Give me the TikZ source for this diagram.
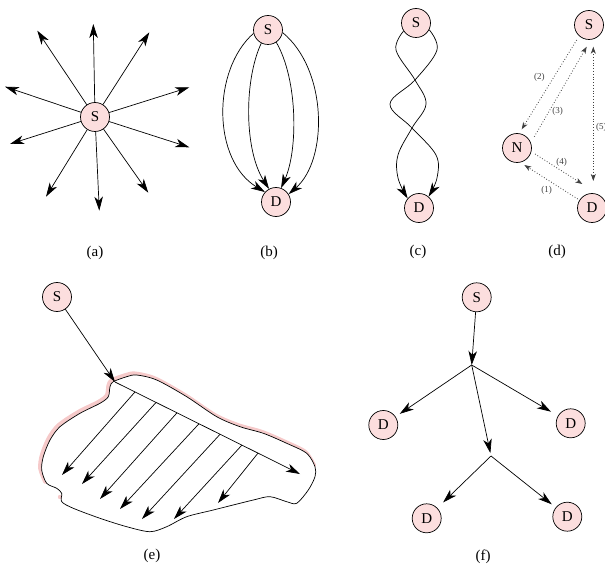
\documentclass[tikz,border=0pt]{standalone}
\usepackage{fontspec}
\setmainfont{Liberation Serif}
\usetikzlibrary{arrows.meta,calc}
\definecolor{nodepink}{RGB}{252,222,222}
\definecolor{edgepink}{RGB}{246,202,202}
\begin{document}
\begin{tikzpicture}[x=1pt,y=-1pt,
  vtx/.style={circle,draw,fill=nodepink,minimum size=29pt,inner sep=0pt,line width=0.7pt,font=\fontsize{15}{15}\selectfont},
  arr/.style={-{Stealth[length=14pt,width=8.5pt,inset=4pt]},line width=0.7pt},
  darr/.style={dotted,line width=0.8pt,draw=black!75,-{Stealth[length=7pt,width=5pt,inset=2pt]}},
  capt/.style={font=\fontsize{15}{15}\selectfont},
  lbl/.style={font=\fontsize{9}{9}\selectfont,text=black!75,inner sep=0pt},
]
\useasboundingbox (0,0) rectangle (605,572);
\clip (0,0) rectangle (605,572);

% ---------- (a)
\node[vtx] (aS) at (95,117) {S};
\foreach \n/\x/\y in {1/93.3/24, 2/37.3/30.7, 3/149.3/32.3, 4/5/86.7, 5/189.3/87.3,
                      6/10/144, 7/189.3/147.3, 8/46/196.7, 9/99.3/210.7, 10/148.3/192.7}{
  \coordinate (a\n) at (\x,\y);
  \draw[arr] (aS) -- (a\n);
}
\node[capt] (acap) at (95,253) {(a)};

% ---------- (b)
\node[vtx] (bS) at (268,30) {S};
\node[vtx] (bD) at (276,202) {D};
\draw[arr] (bS.193) .. controls (212,70) and (212,160) .. (bD.138);
\draw[arr] (bS.243) .. controls (244,80) and (244,150) .. (bD.118);
\draw[arr] (bS.304) .. controls (298,80) and (298,150) .. (bD.70);
\draw[arr] (bS.350) .. controls (328,70) and (328,160) .. (bD.32);
\node[capt] (bcap) at (269,253) {(b)};

% ---------- (c)
\node[vtx] (cS) at (416,23) {S};
\node[vtx] (cD) at (419,208) {D};
\draw[arr] plot[smooth,tension=0.6] coordinates {(cS.213) (396,50) (415,80) (426,104) (412,128) (398,155) (398,178) (cD.140)};
\draw[arr] plot[smooth,tension=0.6] coordinates {(cS.333) (437,50) (415,80) (390,104) (412,128) (436,155) (437,178) (cD.50)};
\node[capt] (ccap) at (418,252) {(c)};

% ---------- (d)
\node[vtx] (dS) at (589,25) {S};
\node[vtx] (dN) at (517,148) {N};
\node[vtx] (dD) at (592,208) {D};
\draw[darr] ($(dS)+(-12.3,15)$) -- ($(dN)+(4.7,-18.7)$);
\draw[darr] ($(dN)+(17.3,-11.3)$) -- ($(dS)+(-2.3,21.7)$);
\draw[darr,{Stealth[length=7pt,width=5pt,inset=2pt]}-{Stealth[length=7pt,width=5pt,inset=2pt]}] ($(dS)+(4.3,21.7)$) -- ($(dD)+(1.3,-27)$);
\draw[darr] ($(dN)+(18,6)$) -- ($(dD)+(-9.7,-24)$);
\draw[darr] ($(dD)+(-14.3,-9)$) -- ($(dN)+(7.3,17)$);
\node[lbl] (l2) at (539.3,77.7) {(2)};
\node[lbl] (l3) at (557.7,111.7) {(3)};
\node[lbl,anchor=west] (l5) at (596,127) {(5)};
\node[lbl] (l4) at (561.7,162.7) {(4)};
\node[lbl] (l1) at (546.7,190) {(1)};
\node[capt] (dcap) at (557,252) {(d)};

% ---------- (e)
\draw[edgepink,line width=4pt,line cap=round] plot[smooth,tension=0.5] coordinates {
  (45.2,481.8) (40.2,468.5) (41.8,455.2) (48.5,438.5) (58.5,425.2) (78.5,411.8) (98.5,401.8)
  (106.8,395.2) (108.5,385.2) (111.8,380.2) (125.2,375.2) (135.2,373.5) (155.2,378.5)
  (185.2,395.2) (215.2,415.2) (238.5,425.2) (261.8,431.8) (285.2,441.8) (305.2,451.8) (314,465.2)};
\fill[edgepink] (60,497) circle (2.2pt);
\draw[line width=0.7pt,fill=white] plot[smooth cycle,tension=0.5] coordinates {
  (113.3,381.7) (126.7,376.7) (136.7,375) (156.7,380) (186.7,396.7) (216.7,416.7) (240,426.7)
  (263.3,433.3) (286.7,443.3) (306.7,453.3) (315,466.7) (315,476.7) (308.3,490) (296.7,503.3)
  (286.7,501.7) (270,496.7) (253.3,500) (213.3,510) (186.7,516.7) (166.7,526.7) (150,531.7)
  (126.7,526.7) (100,518.3) (73.3,508.3) (61.7,501.7) (61.7,493.3) (56.7,488.3) (46.7,483.3)
  (41.7,470) (43.3,456.7) (50,440) (60,426.7) (80,413.3) (100,403.3) (108.3,396.7) (110,386.7)};
\node[vtx] (eS) at (57,297) {S};
\coordinate (eC) at (115,382);
\coordinate (eE) at (300,474);
\draw[arr] (eS) -- (eC);
\draw[arr] (eC) -- (eE);
\foreach \n/\t/\x/\y in {1/0.108/62/475, 2/0.222/82/484, 3/0.335/100/499, 4/0.454/120/509,
                         5/0.568/142/519, 6/0.686/174/519, 7/0.773/218/503}{
  \coordinate (et\n) at (\x,\y);
  \draw[arr] ($(eC)!\t!(eE)$) -- (et\n);
}
\node[capt] (ecap) at (152,556) {(e)};

% ---------- (f)
\node[vtx] (fS) at (476.7,297.3) {S};
\node[vtx] (fD1) at (383.3,425) {D};
\node[vtx] (fD2) at (570.7,423.3) {D};
\node[vtx] (fD3) at (426.7,518.3) {D};
\node[vtx] (fD4) at (567.3,516.7) {D};
\coordinate (fb1) at (471.7,365);
\coordinate (fb2) at (491,456);
\draw[arr] (fS) -- (fb1);
\draw[arr,shorten >=5pt] (fb1) -- (fD1);
\draw[arr,shorten >=8pt] (fb1) -- (fD2);
\draw[arr,shorten >=3pt] (fb1) -- (fb2);
\draw[arr,shorten >=8pt] (fb2) -- (fD3);
\draw[arr,shorten >=5pt] (fb2) -- (fD4);
\node[capt] (fcap) at (483,557) {(f)};
\end{tikzpicture}
\end{document}
